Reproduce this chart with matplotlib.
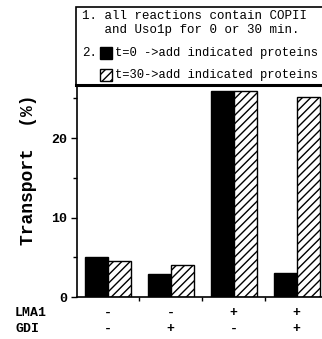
import numpy as np
import matplotlib.pyplot as plt
from matplotlib.patches import Rectangle

# data
groups = np.arange(4)
t0_values = [5.0, 2.9, 26.0, 3.0]
t30_values = [4.5, 4.0, 25.9, 25.2]
lma1 = ['-', '-', '+', '+']
gdi = ['-', '+', '-', '+']
note_lines = ['1. all reactions contain COPII',
              '   and Uso1p for 0 or 30 min.']
key_labels = ['t=0 ->add indicated proteins',
              't=30->add indicated proteins']

W, H = 322, 339
mono = 'Liberation Mono'

fig = plt.figure(figsize=(W / 100, H / 100), dpi=100)
ax = fig.add_axes([77 / W, 42 / H, 1 - 77 / W, 212 / H])

width = 0.365
ax.bar(groups - width / 2, t0_values, width, color='black', edgecolor='black', linewidth=1)
ax.bar(groups + width / 2, t30_values, width, color='white', edgecolor='black',
       linewidth=1, hatch='////')

ax.set_xlim(-0.49, 3.4)
ax.set_ylim(0, 26.7)
ax.spines['top'].set_visible(False)
ax.spines['right'].set_visible(False)
ax.spines['left'].set_linewidth(1.2)
ax.spines['bottom'].set_linewidth(1.2)

ax.set_yticks([0, 10, 20])
ax.set_yticks([5, 15, 25], minor=True)
ax.set_yticklabels(['0', '10', '20'], fontfamily=mono, fontweight='bold', fontsize=9.5)
ax.tick_params(axis='y', which='major', length=4, width=1, pad=3)
ax.tick_params(axis='y', which='minor', length=3, width=1)
ax.set_xticks([0.5, 1.5, 2.5])
ax.set_xticklabels([])
ax.tick_params(axis='x', length=3, width=1)

ax.set_ylabel('Transport  (%)', fontfamily=mono, fontweight='bold', fontsize=13)
ax.yaxis.set_label_coords(-40 / (W - 77), 0.6)

# condition rows under the axis
for g, a, b in zip(groups, lma1, gdi):
    ax.text(g, -2.0, a, ha='center', va='center', fontfamily=mono, fontweight='bold', fontsize=9.5)
    ax.text(g, -4.0, b, ha='center', va='center', fontfamily=mono, fontweight='bold', fontsize=9.5)
ax.text(-0.49 - 62 / 63, -2.0, 'LMA1', ha='left', va='center', fontfamily=mono, fontweight='bold', fontsize=9.5)
ax.text(-0.49 - 62 / 63, -4.0, 'GDI', ha='left', va='center', fontfamily=mono, fontweight='bold', fontsize=9.5)

# note box at the top
fig.patches.append(Rectangle((76 / W, 1 - 85 / H), 1.0, 78 / H, transform=fig.transFigure,
                             facecolor='white', edgecolor='black', linewidth=1.2))
fig.add_artist(plt.Line2D([76 / W, 1], [1 - 85 / H, 1 - 85 / H], color='black', linewidth=2.2))
for y, line in zip([16, 30], note_lines):
    fig.text(82 / W, 1 - y / H, line, ha='left', va='center', fontfamily=mono, fontsize=9)
fig.text(82 / W, 1 - 53 / H, '2.', ha='left', va='center', fontfamily=mono, fontsize=9)
for y, line in zip([53, 75], key_labels):
    fig.text(115 / W, 1 - y / H, line, ha='left', va='center', fontfamily=mono, fontsize=8.7)
fig.patches.append(Rectangle((100 / W, 1 - 59 / H), 12 / W, 12 / H, transform=fig.transFigure,
                             facecolor='black', edgecolor='black', linewidth=1))
fig.patches.append(Rectangle((100 / W, 1 - 81 / H), 12 / W, 12 / H, transform=fig.transFigure,
                             facecolor='white', edgecolor='black', linewidth=1, hatch='////'))

fig.savefig('out.png', dpi=100)
